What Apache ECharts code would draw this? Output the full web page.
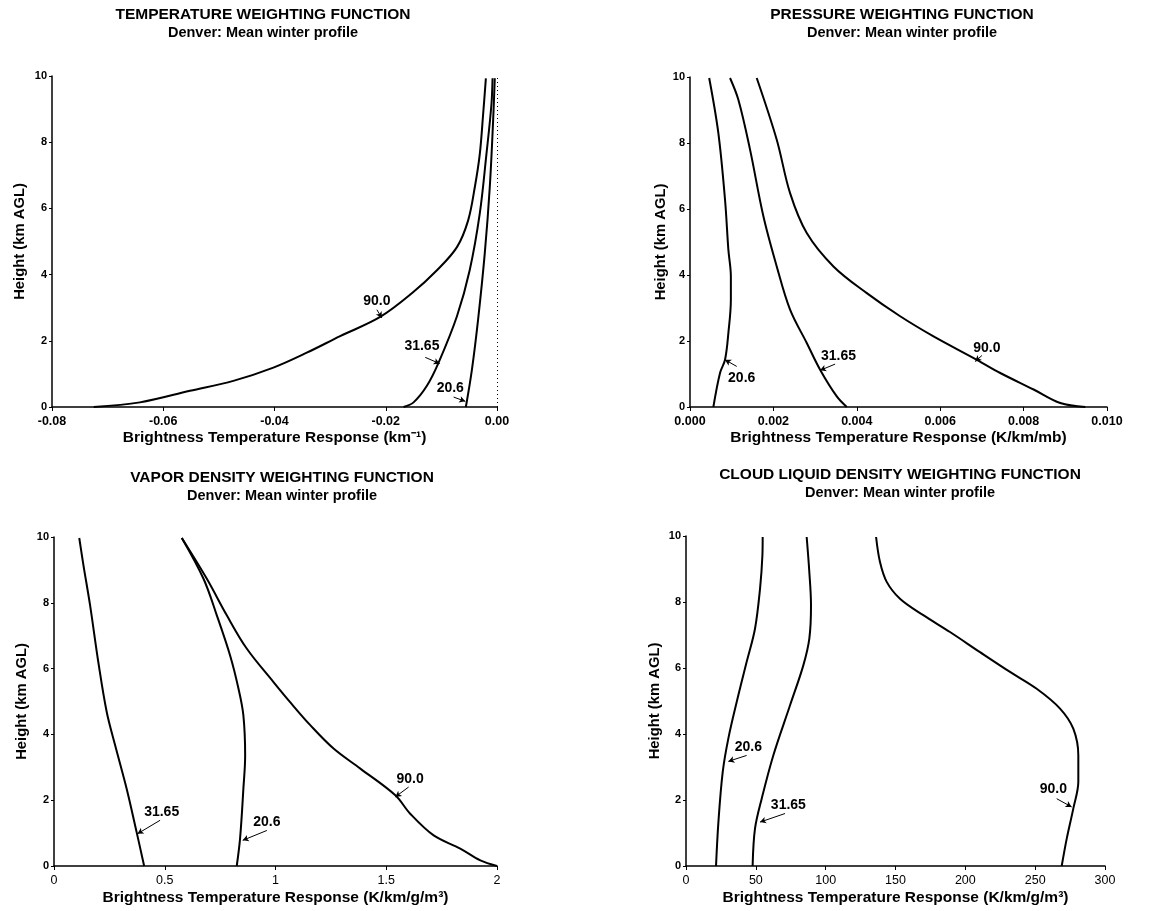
<!DOCTYPE html>
<html>
<head>
<meta charset="utf-8">
<script src="https://cdn.jsdelivr.net/npm/echarts@6/dist/echarts.min.js"></script>
<style>html,body{margin:0;padding:0;background:#fff}#c{width:1157px;height:911px}</style>
</head>
<body>
<div id="c"></div>
<script>
// ---- Data: [response, height km] ----
const temp_90 = [[-0.0725,0],[-0.0642,0.14],[-0.0552,0.49],[-0.0474,0.79],[-0.0402,1.19],[-0.0342,1.64],[-0.0282,2.14],[-0.0210,2.72],[-0.0152,3.45],[-0.0108,4.13],[-0.0072,4.83],[-0.0052,5.63],[-0.0040,6.63],[-0.0031,7.63],[-0.0025,8.83],[-0.0020,9.93]];
const temp_3165 = [[-0.0168,0],[-0.0150,0.14],[-0.0126,0.64],[-0.0105,1.34],[-0.0072,2.74],[-0.0049,4.14],[-0.0031,5.84],[-0.0019,7.64],[-0.0010,9.14],[-0.0008,9.93]];
const temp_206 = [[-0.0056,0],[-0.0045,1.14],[-0.0034,2.64],[-0.0022,4.64],[-0.0013,6.64],[-0.0007,8.64],[-0.0004,9.93]];

const pres_206 = [[0.00056,0],[0.00072,1.03],[0.00084,1.43],[0.00092,2.24],[0.00098,3.25],[0.00098,3.96],[0.00092,4.77],[0.00084,6.28],[0.00068,8.3],[0.00046,9.97]];
const pres_3165 = [[0.00376,0],[0.00352,0.32],[0.00312,1.13],[0.0028,1.94],[0.0024,2.95],[0.00208,4.26],[0.00176,5.78],[0.00144,7.8],[0.00116,9.31],[0.00096,9.97]];
const pres_90 = [[0.00948,0],[0.00888,0.12],[0.00824,0.53],[0.00744,1.03],[0.00688,1.43],[0.00584,2.14],[0.00504,2.75],[0.00424,3.45],[0.00344,4.26],[0.0028,5.27],[0.0024,6.48],[0.00208,8.1],[0.0016,9.97]];

const vap_3165 = [[0.407,0],[0.373,1.03],[0.328,2.35],[0.276,3.67],[0.238,4.68],[0.200,6.2],[0.163,7.92],[0.133,9.14],[0.114,9.97]];
const vap_206 = [[0.825,0],[0.840,0.83],[0.855,2.35],[0.863,3.36],[0.855,4.58],[0.833,5.39],[0.795,6.4],[0.735,7.62],[0.675,8.73],[0.577,9.97]];
const vap_90 = [[2.0,0],[1.925,0.17],[1.834,0.53],[1.714,0.93],[1.608,1.59],[1.541,2.15],[1.383,2.96],[1.262,3.57],[1.157,4.28],[1.066,4.98],[0.991,5.59],[0.870,6.61],[0.780,7.62],[0.690,8.73],[0.577,9.97]];

const cld_206 = [[21.5,0],[23.2,1.33],[26.3,2.85],[30.3,3.86],[36.3,4.97],[43.4,6.18],[49.4,7.19],[53.0,8.4],[54.7,9.41],[54.9,9.97]];
const cld_3165 = [[47.7,0],[49.4,1.13],[54.2,2.04],[62.5,3.35],[74.5,4.87],[84.0,6.08],[88.3,6.89],[89.5,7.9],[88.3,8.91],[86.4,9.97]];
const cld_90 = [[269.0,0],[272.6,0.83],[277.3,1.74],[280.9,2.55],[280.9,3.35],[277.3,4.16],[267.8,4.77],[251.1,5.37],[232.0,5.88],[210.5,6.48],[189.0,7.09],[169.9,7.6],[153.2,8.1],[143.7,8.61],[138.9,9.21],[136.1,9.97]];

// Annotations: [label, textX, textY, arrowFromX, arrowFromY, arrowToX, arrowToY]
const temp_notes = [["90.0",-0.0216,3.19,-0.0216,2.94,-0.0207,2.69],["31.65",-0.0135,1.83,-0.0129,1.50,-0.0103,1.31],["20.6",-0.0084,0.57,-0.0078,0.30,-0.0057,0.17]];
const pres_notes = [["20.6",0.00124,0.88,0.00112,1.23,0.00084,1.43],["31.65",0.00356,1.54,0.00348,1.30,0.00312,1.11],["90.0",0.00712,1.79,0.0070,1.56,0.00684,1.38]];
const vap_notes = [["31.65",0.486,1.64,0.479,1.39,0.377,0.98],["20.6",0.961,1.34,0.961,1.08,0.852,0.78],["90.0",1.608,2.65,1.601,2.40,1.541,2.10]];
const cld_notes = [["20.6",44.6,3.61,43.4,3.35,30.3,3.17],["31.65",73.3,1.84,70.9,1.59,53.0,1.33],["90.0",263.0,2.34,265.4,2.04,276.1,1.79]];

const titles = ["TEMPERATURE WEIGHTING FUNCTION","PRESSURE WEIGHTING FUNCTION","VAPOR DENSITY WEIGHTING FUNCTION","CLOUD LIQUID DENSITY WEIGHTING FUNCTION"];
const subtitle = "Denver: Mean winter profile";
const xNames = ["Brightness Temperature Response (km\u207B\u00B9)","Brightness Temperature Response (K/km/mb)","Brightness Temperature Response (K/km/g/m\u00B3)","Brightness Temperature Response (K/km/g/m\u00B3)"];
const yName = "Height (km AGL)";
const xMin = [-0.08, 0, 0, 0];
const xMax = [0, 0.01, 2, 300];
const xStep = [0.02, 0.002, 0.5, 50];
const xDecimals = [2, 3, -1, 0];
const yMin = 0, yMax = 10, yStep = 2;

// ---- Layout ----
const FONT = "'Liberation Sans', Arial, sans-serif";
const grids = [
  {left:52, top:76, width:445, height:331},
  {left:690, top:77, width:417, height:330},
  {left:54, top:537, width:443, height:329},
  {left:686, top:536, width:419, height:330}
];
const titlePos = [{x:258,y:2},{x:897,y:2},{x:277,y:465},{x:895,y:462}];
const yNameGap = [25, 18, 25, 24];
const xNameGap = [23, 23, 24, 24];

const curves = [
  [temp_90, temp_3165, temp_206],
  [pres_206, pres_3165, pres_90],
  [vap_3165, vap_206, vap_90],
  [cld_206, cld_3165, cld_90]
];
const notes = [temp_notes, pres_notes, vap_notes, cld_notes];

const option = {
  backgroundColor:'#fff',
  animation:false,
  title: titles.map((t,i)=>({
    text:t, subtext:subtitle, left:titlePos[i].x, top:titlePos[i].y, textAlign:'center',
    itemGap:2,
    textStyle:{fontFamily:FONT, fontSize:15.5, fontWeight:'bold', color:'#000'},
    subtextStyle:{fontFamily:FONT, fontSize:14.5, fontWeight:'bold', color:'#000'}
  })),
  grid: grids,
  xAxis: grids.map((g,i)=>({
    type:'value', gridIndex:i, min:xMin[i], max:xMax[i], interval:xStep[i],
    name:xNames[i], nameLocation:'middle', nameGap:xNameGap[i],
    nameTextStyle:{fontFamily:FONT, fontSize:15.5, fontWeight:'bold', color:'#000'},
    axisLine:{show:true, onZero:false, lineStyle:{color:'#000', width:1.5}},
    axisTick:{show:true, length:4, lineStyle:{color:'#000', width:1}},
    splitLine:{show:false},
    axisLabel:{fontFamily:FONT, fontSize:12.5, fontWeight: i<2?'bold':'normal', color:'#000', margin:8,
      formatter:(v)=> xDecimals[i] >= 0 ? (Math.abs(v)<1e-12?0:v).toFixed(xDecimals[i]) : String(+v.toFixed(2))}
  })),
  yAxis: grids.map((g,i)=>({
    type:'value', gridIndex:i, min:yMin, max:yMax, interval:yStep,
    name:yName, nameLocation:'middle', nameGap:yNameGap[i], nameRotate:90,
    nameTextStyle:{fontFamily:FONT, fontSize:14.8, fontWeight:'bold', color:'#000'},
    axisLine:{show:true, onZero:false, lineStyle:{color:'#000', width:1.5}},
    axisTick:{show:true, length:3, lineStyle:{color:'#000', width:1}},
    splitLine:{show:false},
    axisLabel:{fontFamily:FONT, fontSize:11, fontWeight:'bold', color:'#000', margin:5}
  })),
  series: []
};

curves.forEach((set,i)=>{
  set.forEach(d=>{
    option.series.push({type:'line', xAxisIndex:i, yAxisIndex:i, data:d, smooth:0.35,
      showSymbol:false, symbol:'none', lineStyle:{color:'#000', width:2}, silent:true});
  });
  option.series.push({
    type:'scatter', xAxisIndex:i, yAxisIndex:i, symbolSize:0, silent:true,
    itemStyle:{opacity:1, color:'#000'},
    data: notes[i].map(n=>({name:n[0], value:[n[1],n[2]]})),
    label:{show:true, position:'inside', formatter:'{b}', fontFamily:FONT, fontSize:14, fontWeight:'bold', color:'#000', opacity:1},
    markLine:{silent:true, symbol:['none','arrow'], symbolSize:[5,6], label:{show:false},
      lineStyle:{color:'#000', width:1, type:'solid', opacity:1},
      data: notes[i].map(n=>[{coord:[n[3],n[4]]},{coord:[n[5],n[6]]}])}
  });
});
// dotted zero line in temperature panel
option.series.push({type:'line', xAxisIndex:0, yAxisIndex:0, data:[], silent:true,
  markLine:{silent:true, symbol:['none','none'], label:{show:false},
    lineStyle:{color:'#000', width:1, type:[1,3], opacity:1}, data:[{xAxis:0}]}});

const chart = echarts.init(document.getElementById('c'), null, {renderer:'canvas'});
chart.setOption(option);
</script>
</body>
</html>
